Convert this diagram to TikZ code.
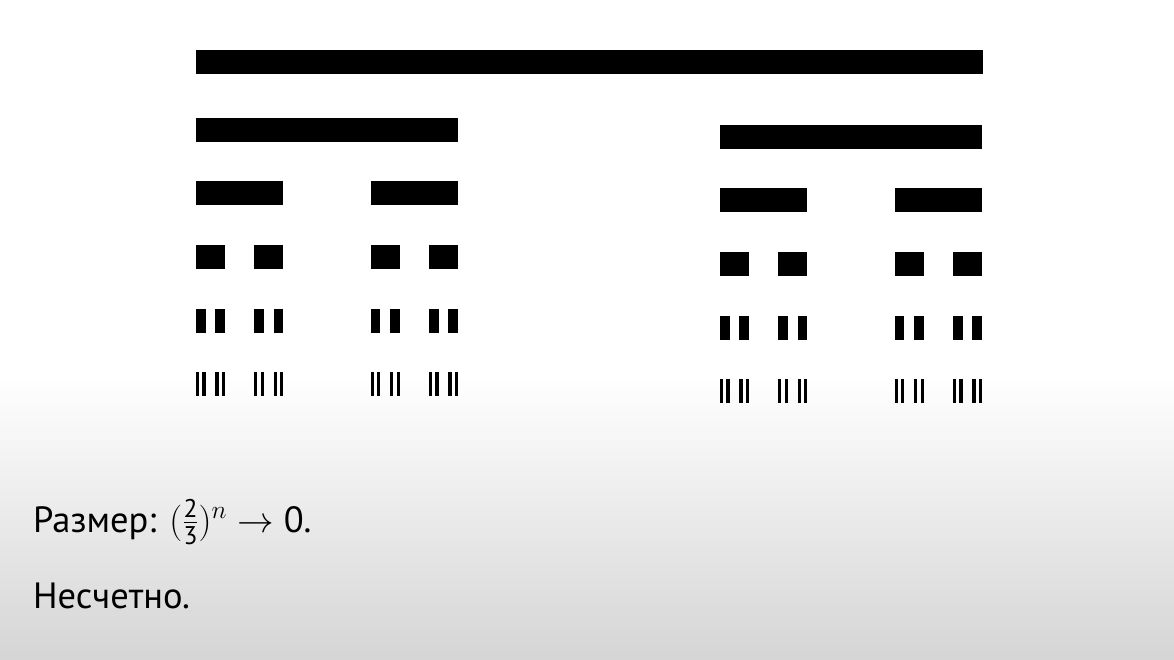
\documentclass[tikz,border=0pt]{standalone}
\usepackage{fix-cm}
\usepackage{amsmath}
\usepackage{fontspec}
\setmainfont{PT Sans}
\usetikzlibrary{positioning}

% one bar of the set and its two thirds below, down to level #3
\newcommand\cantorrow[4]{%
  \fill[bar] (#1,#4) rectangle ++(#2,24);
  \ifnum#3>0
    \pgfmathsetmacro\cbLen{#2/3}%
    \pgfmathsetmacro\cbRight{#1+2*#2/3}%
    \pgfmathsetmacro\cbY{#4+63.5}%
    \pgfmathtruncatemacro\cbN{#3-1}%
    \edef\cbNext{\noexpand\cantorrow{#1}{\cbLen}{\cbN}{\cbY}%
      \noexpand\cantorrow{\cbRight}{\cbLen}{\cbN}{\cbY}}%
    \cbNext
  \fi}

\begin{document}
\begin{tikzpicture}[
  x=1pt, y=-1pt,
  bar/.style={fill=black},
  caption/.style={anchor=base west, inner sep=0pt,
    font=\fontsize{36.5}{44}\selectfont}
]
\useasboundingbox (0,0) rectangle (1174,660);
\fill[white] (0,0) rectangle (1174,375);
\shade[top color=white, bottom color=gray!33] (0,375) rectangle (1174,660);

% whole segment, then the two halves (the right one sits a bit lower)
\fill[bar] (196,50) rectangle (983,74);
\cantorrow{196}{262}{4}{118}
\cantorrow{720}{262}{4}{125}

\node[caption] (size) at (33,532)
  {Размер: $(\frac{\text{2}}{\text{3}})^n \to \text{0}$.};
\node[caption] (count) at (33,608) {Несчетно.};
\end{tikzpicture}
\end{document}
